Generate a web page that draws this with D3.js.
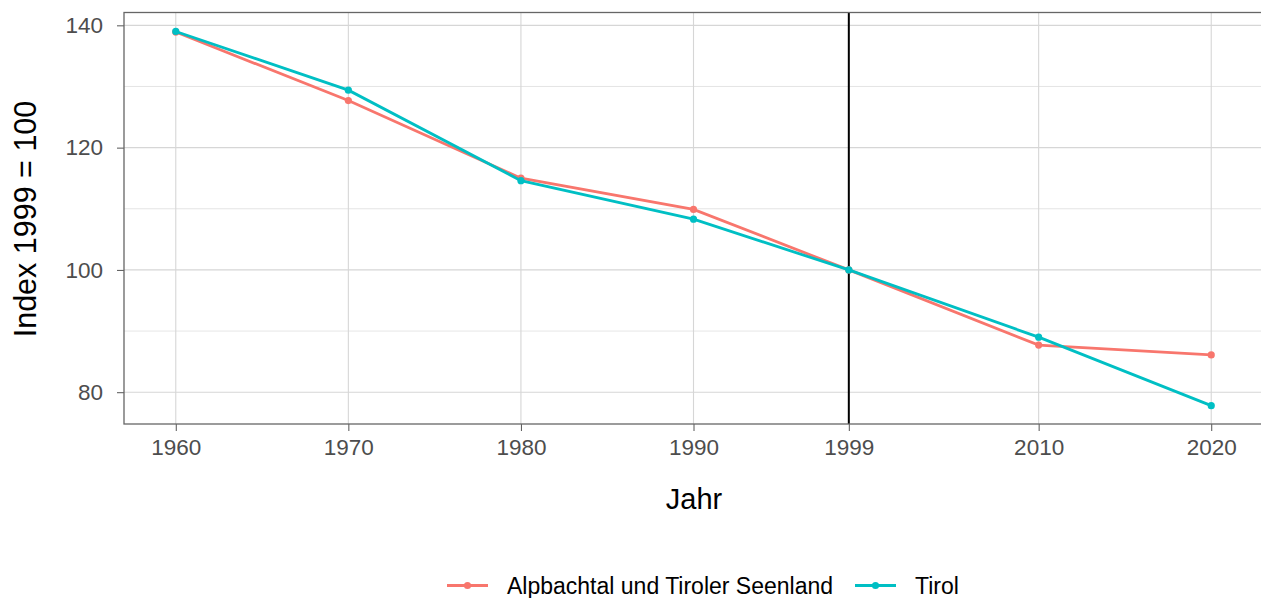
<!DOCTYPE html>
<html>
<head>
<meta charset="utf-8">
<script src="https://cdn.jsdelivr.net/npm/d3@7"></script>
<style>
  body { margin: 0; background: #fff; overflow: hidden; }
  text { font-family: "Liberation Sans", Arial, sans-serif; }
</style>
</head>
<body>
<div id="chart"></div>
<script>
// data
const years = [1960, 1970, 1980, 1990, 1999, 2010, 2020];
const alpbach = [138.9, 127.7, 115.0, 109.9, 100, 87.7, 86.1];
const tirol   = [139.0, 129.4, 114.6, 108.3, 100, 89.0, 77.8];
const seriesNames = ["Alpbachtal und Tiroler Seenland", "Tirol"];
const seriesColors = ["#F8766D", "#00BFC4"];
const yTicks = [80, 100, 120, 140];
const yMinor = [90, 110, 130];
const refYear = 1999;

const W = 1261, H = 598;
const margin = {top: 12.5, right: -2, bottom: 174, left: 124};
const width = W - margin.left - margin.right,
      height = H - margin.top - margin.bottom;

const svg = d3.select("#chart").append("svg")
    .attr("width", W).attr("height", H);

const g = svg.append("g")
    .attr("transform", "translate(" + margin.left + "," + margin.top + ")");

const x = d3.scaleLinear().domain([1957, 2023]).range([0, width]);
const y = d3.scaleLinear().domain([74.8, 142.1]).range([height, 0]);

// grid
g.selectAll(".minor").data(yMinor).enter().append("line")
    .attr("x1", 0).attr("x2", width)
    .attr("y1", d => y(d)).attr("y2", d => y(d))
    .style("stroke", "#dedede").style("stroke-width", 0.8);
g.selectAll(".hgrid").data(yTicks).enter().append("line")
    .attr("x1", 0).attr("x2", width)
    .attr("y1", d => y(d)).attr("y2", d => y(d))
    .style("stroke", "#d6d6d6").style("stroke-width", 1.1);
g.selectAll(".vgrid").data(years).enter().append("line")
    .attr("y1", 0).attr("y2", height)
    .attr("x1", d => x(d)).attr("x2", d => x(d))
    .style("stroke", "#d6d6d6").style("stroke-width", 1.1);

// axes
const xAxis = g.append("g")
    .attr("transform", "translate(0," + height + ")")
    .call(d3.axisBottom(x).tickValues(years).tickFormat(d3.format("d")).tickSize(7).tickPadding(8));
const yAxis = g.append("g")
    .call(d3.axisLeft(y).tickValues(yTicks).tickSize(7).tickPadding(14));
[xAxis, yAxis].forEach(a => {
  a.select(".domain").remove();
  a.selectAll(".tick line").style("stroke", "#555");
  a.selectAll(".tick text").style("fill", "#4d4d4d").style("font-size", "22.5px");
});

// reference year
g.append("line")
    .attr("x1", x(refYear)).attr("x2", x(refYear))
    .attr("y1", 0).attr("y2", height)
    .style("stroke", "#000").style("stroke-width", 2);

// series
const series = [alpbach, tirol];
const line = d3.line().x((d, i) => x(years[i])).y(d => y(d));
series.forEach((vals, k) => {
  g.append("path").datum(vals)
    .attr("d", line)
    .style("fill", "none")
    .style("stroke", seriesColors[k])
    .style("stroke-width", 2.8);
  g.selectAll(".pt" + k).data(vals).enter().append("circle")
    .attr("cx", (d, i) => x(years[i])).attr("cy", d => y(d))
    .attr("r", 3.6)
    .style("fill", seriesColors[k]);
});

// panel border
g.append("rect")
    .attr("x", 0).attr("y", 0).attr("width", width).attr("height", height)
    .style("fill", "none").style("stroke", "#666").style("stroke-width", 1.3);

// axis titles
svg.append("text")
    .attr("x", 694).attr("y", 509)
    .attr("text-anchor", "middle")
    .style("font-size", "29px").style("fill", "#000")
    .text("Jahr");
svg.append("text")
    .attr("transform", "translate(36,219) rotate(-90)")
    .attr("text-anchor", "middle")
    .style("font-size", "30.5px").style("fill", "#000")
    .text("Index 1999 = 100");

// legend
const legendX = [447, 855];
seriesNames.forEach((name, k) => {
  const lg = svg.append("g").attr("transform", "translate(" + legendX[k] + ",585.5)");
  lg.append("line").attr("x1", 0).attr("x2", 41).attr("y1", 0).attr("y2", 0)
    .style("stroke", seriesColors[k]).style("stroke-width", 2.8);
  lg.append("circle").attr("cx", 20.5).attr("cy", 0).attr("r", 3.6)
    .style("fill", seriesColors[k]);
  lg.append("text").attr("x", 60).attr("y", 8.5)
    .style("font-size", "23px").style("fill", "#000")
    .text(name);
});
</script>
</body>
</html>
